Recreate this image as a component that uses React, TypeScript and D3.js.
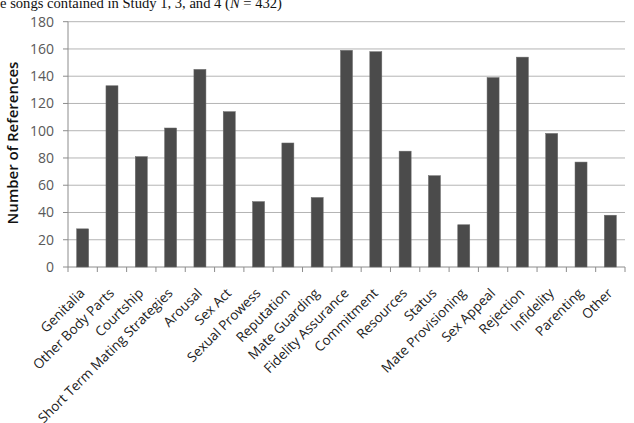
import React from 'react'
import * as d3 from 'd3'

const categories = [
  'Genitalia', 'Other Body Parts', 'Courtship', 'Short Term Mating Strategies', 'Arousal',
  'Sex Act', 'Sexual Prowess', 'Reputation', 'Mate Guarding', 'Fidelity Assurance',
  'Commitment', 'Resources', 'Status', 'Mate Provisioning', 'Sex Appeal',
  'Rejection', 'Infidelity', 'Parenting', 'Other',
]
const counts = [28, 133, 81, 102, 145, 114, 48, 91, 51, 159, 158, 85, 67, 31, 139, 154, 98, 77, 38]
const yTicks = [0, 20, 40, 60, 80, 100, 120, 140, 160, 180]
const captionText = 'e songs contained in Study 1, 3, and 4 ('
const captionN = 'N'
const captionRest = ' = 432)'

const W = 634
const H = 423
const left = 68, right = 625, top = 21.7, bottom = 267

function App() {
  const x = d3.scaleBand().domain(categories).range([left, right]).paddingInner(0).paddingOuter(0)
  const y = d3.scaleLinear().domain([0, 180]).range([bottom, top])
  const bw = x.bandwidth() * 0.41
  const font = '"Open Sans", Calibri, sans-serif'

  return (
    <svg width={W} height={H} style={{position: 'absolute', left: 0, top: 0, background: '#fff'}}>
      <text x={0} y={7.5} fontFamily='"Liberation Serif", "Times New Roman", serif' fontSize={15}
        fill="#111" textLength={282} lengthAdjust="spacingAndGlyphs">
        {captionText}<tspan fontStyle="italic">{captionN}</tspan>{captionRest}
      </text>

      <g className='grid'>
        {yTicks.map(t => (
          <line key={t} x1={left} x2={right} y1={y(t)} y2={y(t)} stroke={t === 0 ? '#8c8c8c' : '#b4b4b4'} strokeWidth={1} />
        ))}
      </g>

      <g className='yaxis'>
        <line x1={left} x2={left} y1={top} y2={bottom} stroke="#8c8c8c" />
        {yTicks.map(t => (
          <g key={t}>
            <line x1={left - 5} x2={left} y1={y(t)} y2={y(t)} stroke="#8c8c8c" />
            <text x={54} y={y(t)} dy="0.35em" textAnchor="end" fontFamily={font} fontSize={14} fill="#595959">{t}</text>
          </g>
        ))}
        <text transform={`translate(18,143) rotate(-90)`} textAnchor="middle"
          fontFamily={font} fontSize={15} fontWeight={600} fill="#111">Number of References</text>
      </g>

      <g className='bars'>
        {categories.map((c, i) => (
          <rect key={c} x={(x(c) as number) + (x.bandwidth() - bw) / 2} y={y(counts[i])}
            width={bw} height={bottom - y(counts[i])} fill="#4b4b4b" stroke="#6a6a6a" strokeWidth={0.5} />
        ))}
      </g>

      <g className='xaxis'>
        {[...categories.map(c => x(c) as number), right].map((v, i) => (
          <line key={i} x1={v} x2={v} y1={bottom} y2={bottom + 5} stroke="#8c8c8c" />
        ))}
        {categories.map(c => {
          const cx = (x(c) as number) + x.bandwidth() / 2 + 3
          return (
            <text key={c} transform={`translate(${cx},${bottom + 27}) rotate(-45)`} textAnchor="end"
              fontFamily={font} fontSize={13.5} fill="#222">{c}</text>
          )
        })}
      </g>
    </svg>
  )
}

export default App
